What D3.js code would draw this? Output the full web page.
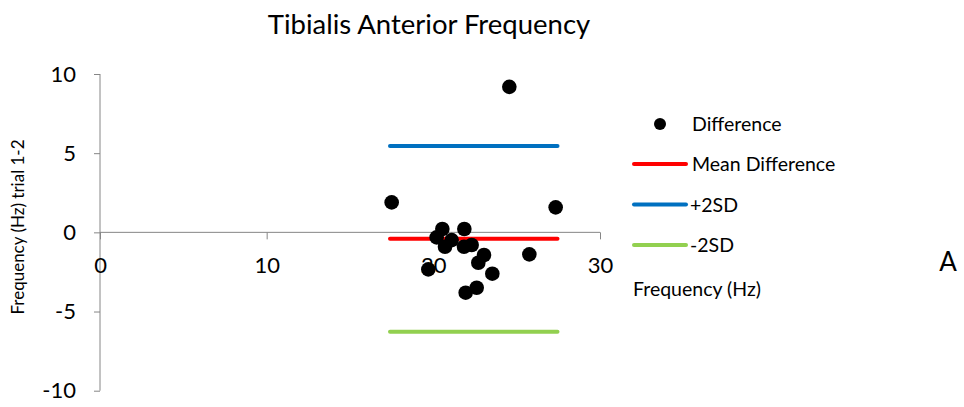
<!DOCTYPE html>
<html>
<head>
<meta charset="utf-8">
<script src="https://cdn.jsdelivr.net/npm/d3@7"></script>
<style>
  body { margin: 0; background: #fff; }
  text { font-family: Lato, "Open Sans", sans-serif; fill: #000; }
</style>
</head>
<body>
<svg width="964" height="407"></svg>
<script>
// mean of the two trials (Hz)
var meanFreq = [17.5, 27.34, 20.54, 21.86, 20.2, 21.1, 20.7, 21.84, 22.3, 23.04, 22.7, 23.54, 19.7, 25.76, 22.6, 21.94, 24.56];
// difference trial 1 - trial 2 (Hz)
var diffFreq = [1.89, 1.58, 0.21, 0.21, -0.32, -0.49, -0.91, -0.91, -0.8, -1.43, -1.92, -2.61, -2.34, -1.39, -3.5, -3.81, 9.19];

var meanDiff = -0.41;
var upperSD = 5.45;
var lowerSD = -6.27;
var lineRange = [17.4, 27.45];

var xTicks = [0, 10, 20, 30];
var yTicks = [-10, -5, 0, 5, 10];

var refLines = [
  {name: "Mean Difference", value: meanDiff, color: "#ff0000"},
  {name: "+2SD", value: upperSD, color: "#0070c0"},
  {name: "-2SD", value: lowerSD, color: "#92d050"}
];

var svg = d3.select("svg");
var axisColor = "#868686";
var plain = function(d) { return String(d); };

var x = d3.scaleLinear().domain([0, 30]).range([100, 600]);
var y = d3.scaleLinear().domain([-10, 10]).range([390.7, 74]);

// title
svg.append("text")
  .attr("x", 429)
  .attr("y", 34)
  .attr("text-anchor", "middle")
  .style("font-size", "27.5px")
  .text("Tibialis Anterior Frequency");

// y axis
var yAxis = svg.append("g")
  .attr("transform", "translate(" + x(0) + ",0)")
  .call(d3.axisLeft(y).tickValues(yTicks).tickFormat(plain).tickSize(6).tickPadding(18));
yAxis.select(".domain").attr("stroke", axisColor).attr("d", "M0," + y(-10) + "V" + y(10));
yAxis.selectAll(".tick line").attr("stroke", axisColor);
yAxis.selectAll("text").style("font-size", "22px").attr("fill", "#000").attr("font-family", null);

// x axis sits at y = 0
var xAxis = svg.append("g")
  .attr("transform", "translate(0," + y(0) + ")")
  .call(d3.axisBottom(x).tickValues(xTicks).tickFormat(plain).tickSize(7).tickPadding(36));
xAxis.select(".domain").attr("stroke", axisColor).attr("d", "M" + x(0) + ",0H" + x(30));
xAxis.selectAll(".tick line").attr("stroke", axisColor);
xAxis.selectAll("text").style("font-size", "22px").attr("fill", "#000").attr("font-family", null)
  .attr("dy", "-0.1em");

// axis titles
svg.append("text")
  .attr("transform", "translate(24,227) rotate(-90)")
  .attr("text-anchor", "middle")
  .style("font-size", "17px")
  .text("Frequency (Hz) trial 1-2");

svg.append("text")
  .attr("x", 633)
  .attr("y", 296)
  .style("font-size", "19.5px")
  .text("Frequency (Hz)");

svg.append("text")
  .attr("x", 948)
  .attr("y", 271)
  .attr("text-anchor", "middle")
  .style("font-size", "26px")
  .text("A");

// reference lines
svg.selectAll(".ref")
  .data(refLines)
  .enter().append("line")
  .attr("class", "ref")
  .attr("x1", x(lineRange[0]))
  .attr("x2", x(lineRange[1]))
  .attr("y1", function(d) { return y(d.value); })
  .attr("y2", function(d) { return y(d.value); })
  .attr("stroke", function(d) { return d.color; })
  .attr("stroke-width", 4)
  .attr("stroke-linecap", "round");

// points
svg.selectAll(".dot")
  .data(meanFreq)
  .enter().append("circle")
  .attr("class", "dot")
  .attr("cx", function(d) { return x(d); })
  .attr("cy", function(d, i) { return y(diffFreq[i]); })
  .attr("r", 7.3)
  .attr("fill", "#000");

// legend
var legend = svg.append("g");
legend.append("circle").attr("cx", 660).attr("cy", 124).attr("r", 6).attr("fill", "#000");
legend.append("text").attr("x", 692).attr("y", 131).style("font-size", "19.5px").text("Difference");

refLines.forEach(function(d, i) {
  var ly = 164 + i * 40.5;
  legend.append("line")
    .attr("x1", 634).attr("x2", 686)
    .attr("y1", ly).attr("y2", ly)
    .attr("stroke", d.color).attr("stroke-width", 4).attr("stroke-linecap", "round");
  legend.append("text").attr("x", i === 0 ? 692 : 690).attr("y", ly + 7)
    .style("font-size", "19.5px").text(d.name);
});
</script>
</body>
</html>
